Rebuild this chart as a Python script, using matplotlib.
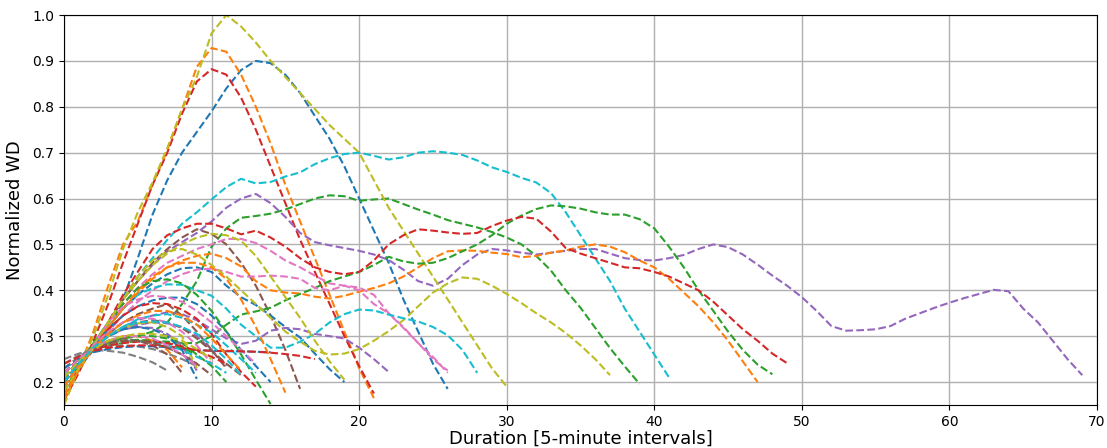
import matplotlib
matplotlib.use("Agg")
import matplotlib.pyplot as plt

# each series: normalized WD sampled at every 5-minute interval, starting at 0
olive_peak = [0.15, 0.23, 0.30, 0.39, 0.49, 0.57, 0.635, 0.71, 0.795, 0.865, 0.96, 1.0, 0.975, 0.94, 0.90,
              0.865, 0.83, 0.795, 0.76, 0.73, 0.70, 0.64, 0.58, 0.53, 0.48, 0.43, 0.38, 0.33, 0.28, 0.23, 0.19]
orange_peak = [0.15, 0.23, 0.31, 0.41, 0.50, 0.55, 0.63, 0.705, 0.795, 0.887, 0.928, 0.92, 0.87, 0.80, 0.72,
               0.63, 0.55, 0.47, 0.39, 0.31, 0.23, 0.165]
red_peak = [0.16, 0.22, 0.29, 0.37, 0.46, 0.545, 0.63, 0.70, 0.785, 0.855, 0.882, 0.87, 0.82, 0.75, 0.67,
            0.59, 0.51, 0.44, 0.37, 0.30, 0.235, 0.175]
blue_peak = [0.18, 0.23, 0.27, 0.31, 0.38, 0.47, 0.565, 0.64, 0.70, 0.745, 0.79, 0.84, 0.88, 0.90, 0.895,
             0.87, 0.83, 0.78, 0.73, 0.67, 0.60, 0.53, 0.46, 0.38, 0.31, 0.24, 0.185]
cyan_long = [0.18, 0.23, 0.28, 0.33, 0.38, 0.43, 0.47, 0.51, 0.545, 0.57, 0.598, 0.625, 0.643, 0.633, 0.636,
             0.648, 0.657, 0.675, 0.688, 0.697, 0.70, 0.693, 0.685, 0.69, 0.70, 0.703, 0.70, 0.695, 0.683,
             0.668, 0.658, 0.645, 0.635, 0.612, 0.57, 0.52, 0.47, 0.42, 0.36, 0.31, 0.26, 0.21]
green_plateau = [0.20, 0.24, 0.27, 0.285, 0.295, 0.30, 0.31, 0.33, 0.37, 0.42, 0.495, 0.535, 0.558, 0.562,
                 0.567, 0.576, 0.588, 0.60, 0.607, 0.605, 0.595, 0.598, 0.60, 0.588, 0.576, 0.565, 0.553,
                 0.545, 0.537, 0.527, 0.515, 0.50, 0.475, 0.443, 0.40, 0.362, 0.318, 0.274, 0.234, 0.196]
green_late = [0.21, 0.245, 0.27, 0.28, 0.285, 0.29, 0.29, 0.288, 0.285, 0.285, 0.30, 0.325, 0.347, 0.354,
              0.362, 0.378, 0.392, 0.405, 0.42, 0.43, 0.44, 0.455, 0.473, 0.463, 0.458, 0.46, 0.47, 0.485,
              0.50, 0.52, 0.545, 0.563, 0.577, 0.585, 0.583, 0.578, 0.57, 0.565, 0.565, 0.555, 0.535, 0.495,
              0.45, 0.40, 0.355, 0.31, 0.27, 0.238, 0.217]
red_long = [0.17, 0.23, 0.28, 0.33, 0.39, 0.44, 0.49, 0.52, 0.535, 0.545, 0.545, 0.535, 0.522, 0.53, 0.515,
            0.495, 0.47, 0.45, 0.44, 0.435, 0.44, 0.465, 0.50, 0.52, 0.533, 0.53, 0.526, 0.523, 0.525, 0.54,
            0.552, 0.56, 0.556, 0.528, 0.492, 0.48, 0.47, 0.46, 0.45, 0.448, 0.44, 0.43, 0.415, 0.40, 0.375,
            0.345, 0.315, 0.29, 0.262, 0.241]
orange_long = [0.16, 0.23, 0.28, 0.32, 0.36, 0.40, 0.43, 0.45, 0.465, 0.475, 0.48, 0.47, 0.452, 0.42, 0.40,
               0.395, 0.393, 0.386, 0.382, 0.388, 0.397, 0.405, 0.415, 0.43, 0.45, 0.47, 0.485, 0.487, 0.486,
               0.482, 0.479, 0.472, 0.475, 0.482, 0.487, 0.495, 0.50, 0.495, 0.483, 0.465, 0.45, 0.425, 0.395,
               0.365, 0.33, 0.29, 0.245, 0.20]
purple_long = [0.19, 0.24, 0.28, 0.33, 0.38, 0.42, 0.455, 0.485, 0.505, 0.525, 0.55, 0.58, 0.60, 0.61, 0.59,
               0.56, 0.525, 0.505, 0.498, 0.492, 0.486, 0.478, 0.466, 0.445, 0.42, 0.41, 0.425, 0.455, 0.478,
               0.49, 0.487, 0.482, 0.478, 0.482, 0.486, 0.49, 0.49, 0.48, 0.47, 0.466, 0.465, 0.47, 0.477,
               0.49, 0.50, 0.494, 0.478, 0.456, 0.432, 0.41, 0.385, 0.355, 0.322, 0.312, 0.313, 0.315, 0.322,
               0.338, 0.35, 0.362, 0.373, 0.383, 0.392, 0.401, 0.398, 0.36, 0.33, 0.29, 0.25, 0.215]
cyan_mid = [0.20, 0.24, 0.28, 0.32, 0.36, 0.39, 0.405, 0.413, 0.412, 0.40, 0.388, 0.36, 0.325, 0.30, 0.275,
            0.275, 0.288, 0.305, 0.33, 0.348, 0.358, 0.356, 0.347, 0.339, 0.332, 0.32, 0.302, 0.27, 0.22]
olive_late = [0.18, 0.23, 0.28, 0.33, 0.38, 0.43, 0.465, 0.485, 0.49, 0.478, 0.455, 0.43, 0.40, 0.37, 0.34,
              0.31, 0.288, 0.268, 0.26, 0.262, 0.272, 0.29, 0.311, 0.335, 0.365, 0.395, 0.415, 0.428, 0.425,
              0.41, 0.392, 0.372, 0.35, 0.33, 0.307, 0.28, 0.25, 0.215]
olive_mid = [0.18, 0.23, 0.28, 0.33, 0.38, 0.42, 0.455, 0.48, 0.50, 0.515, 0.523, 0.52, 0.508, 0.475, 0.43,
             0.385, 0.34, 0.29, 0.245, 0.205]
pink_a = [0.18, 0.23, 0.28, 0.33, 0.37, 0.405, 0.435, 0.46, 0.475, 0.49, 0.50, 0.512, 0.512, 0.503, 0.486,
          0.465, 0.45, 0.432, 0.415, 0.41, 0.406, 0.39, 0.35, 0.318, 0.285, 0.255, 0.22]
pink_b = [0.19, 0.235, 0.275, 0.31, 0.345, 0.375, 0.40, 0.42, 0.435, 0.445, 0.447, 0.44, 0.43, 0.43, 0.432,
          0.43, 0.425, 0.405, 0.40, 0.41, 0.40, 0.37, 0.35, 0.32, 0.285, 0.25, 0.225]
purple_mid = [0.20, 0.24, 0.275, 0.30, 0.32, 0.335, 0.345, 0.352, 0.348, 0.335, 0.315, 0.295, 0.283, 0.29,
              0.312, 0.318, 0.315, 0.305, 0.30, 0.295, 0.275, 0.25, 0.222]
brown_mid = [0.17, 0.225, 0.28, 0.33, 0.38, 0.42, 0.46, 0.49, 0.515, 0.533, 0.523, 0.50, 0.46, 0.41, 0.345,
             0.27, 0.185]
blue_mid = [0.18, 0.23, 0.28, 0.32, 0.36, 0.39, 0.415, 0.435, 0.448, 0.45, 0.44, 0.41, 0.385, 0.368, 0.345,
            0.32, 0.297, 0.262, 0.228, 0.20]
orange_mid = [0.17, 0.225, 0.275, 0.32, 0.36, 0.395, 0.425, 0.45, 0.46, 0.46, 0.45, 0.425, 0.38, 0.32, 0.25,
              0.177]
red_short = [0.20, 0.24, 0.28, 0.315, 0.345, 0.365, 0.372, 0.37, 0.358, 0.338, 0.305, 0.26, 0.222, 0.19]
green_short = [0.18, 0.235, 0.285, 0.33, 0.37, 0.405, 0.42, 0.424, 0.415, 0.39, 0.355, 0.31, 0.26, 0.205, 0.152]
blue_short = [0.19, 0.235, 0.28, 0.315, 0.345, 0.365, 0.378, 0.384, 0.384, 0.37, 0.345, 0.31, 0.27, 0.235, 0.20]
pink_short = [0.20, 0.24, 0.28, 0.33, 0.365, 0.38, 0.388, 0.385, 0.375, 0.355, 0.33, 0.30, 0.27, 0.24]
brown_short = [0.20, 0.24, 0.275, 0.305, 0.33, 0.348, 0.36, 0.37, 0.345, 0.31, 0.27, 0.23]
cyan_short = [0.21, 0.245, 0.275, 0.30, 0.32, 0.337, 0.345, 0.348, 0.34, 0.325, 0.308, 0.28, 0.25, 0.22]
red_flat = [0.24, 0.255, 0.268, 0.275, 0.278, 0.28, 0.28, 0.278, 0.274, 0.27, 0.268, 0.268, 0.267, 0.266,
            0.264, 0.261, 0.257, 0.25]
blue_flat = [0.23, 0.25, 0.265, 0.272, 0.276, 0.278, 0.278, 0.276, 0.273, 0.27, 0.268, 0.267, 0.267, 0.266,
             0.265]
gray_a = [0.25, 0.262, 0.27, 0.268, 0.264, 0.255, 0.243, 0.225]
gray_b = [0.24, 0.258, 0.272, 0.278, 0.28, 0.278, 0.272, 0.262, 0.25, 0.235]
gray_c = [0.23, 0.255, 0.275, 0.285, 0.29, 0.29, 0.285, 0.275, 0.26, 0.24]
brown_a = [0.22, 0.25, 0.275, 0.29, 0.295, 0.29, 0.28, 0.26, 0.22]
brown_b = [0.20, 0.24, 0.275, 0.30, 0.318, 0.33, 0.335, 0.33, 0.318, 0.295, 0.268, 0.24, 0.215]
brown_c = [0.22, 0.25, 0.272, 0.285, 0.29, 0.29, 0.285, 0.275, 0.26, 0.24, 0.215]
orange_a = [0.20, 0.24, 0.27, 0.29, 0.30, 0.30, 0.29, 0.27, 0.232]
orange_b = [0.19, 0.235, 0.275, 0.305, 0.33, 0.345, 0.355, 0.355, 0.345, 0.325, 0.295, 0.26, 0.225]
purple_a = [0.21, 0.245, 0.275, 0.30, 0.315, 0.32, 0.318, 0.305, 0.28, 0.225]
purple_b = [0.20, 0.24, 0.275, 0.30, 0.315, 0.325, 0.33, 0.328, 0.32, 0.30, 0.27, 0.235]
blue_a = [0.20, 0.24, 0.275, 0.30, 0.315, 0.32, 0.315, 0.30, 0.27, 0.207]
olive_a = [0.19, 0.235, 0.275, 0.30, 0.318, 0.328, 0.33, 0.32, 0.30, 0.23]
olive_b = [0.21, 0.245, 0.272, 0.29, 0.30, 0.305, 0.305, 0.30, 0.29, 0.272, 0.25]
green_a = [0.21, 0.245, 0.275, 0.29, 0.298, 0.30, 0.30, 0.295, 0.285, 0.26, 0.235, 0.20]
green_b = [0.22, 0.25, 0.272, 0.285, 0.29, 0.292, 0.29, 0.285, 0.275, 0.26]
pink_c = [0.20, 0.24, 0.28, 0.31, 0.33, 0.34, 0.338, 0.33, 0.31, 0.28, 0.24]
pink_d = [0.22, 0.25, 0.275, 0.29, 0.30, 0.30, 0.295, 0.28, 0.26, 0.235]
cyan_a = [0.22, 0.25, 0.272, 0.285, 0.29, 0.29, 0.286, 0.28, 0.27, 0.255, 0.24, 0.22]
cyan_b = [0.20, 0.24, 0.275, 0.30, 0.32, 0.33, 0.332, 0.33, 0.32, 0.305, 0.28, 0.25, 0.215]
red_a = [0.22, 0.25, 0.27, 0.28, 0.285, 0.288, 0.288, 0.285, 0.278, 0.268, 0.255, 0.24]

series = [
    (blue_peak, "C0"), (orange_peak, "C1"), (green_plateau, "C2"), (red_peak, "C3"), (purple_long, "C4"),
    (brown_mid, "C5"), (pink_a, "C6"), (gray_a, "C7"), (olive_peak, "C8"), (cyan_long, "C9"),
    (blue_mid, "C0"), (orange_long, "C1"), (green_late, "C2"), (red_long, "C3"), (purple_mid, "C4"),
    (brown_short, "C5"), (pink_b, "C6"), (gray_b, "C7"), (olive_late, "C8"), (cyan_mid, "C9"),
    (blue_short, "C0"), (orange_mid, "C1"), (green_short, "C2"), (red_short, "C3"), (purple_a, "C4"),
    (brown_a, "C5"), (pink_short, "C6"), (gray_c, "C7"), (olive_mid, "C8"), (cyan_short, "C9"),
    (blue_flat, "C0"), (orange_a, "C1"), (green_a, "C2"), (red_flat, "C3"), (purple_b, "C4"),
    (brown_b, "C5"), (pink_c, "C6"), (olive_a, "C8"), (cyan_a, "C9"),
    (blue_a, "C0"), (orange_b, "C1"), (green_b, "C2"), (red_a, "C3"), (brown_c, "C5"),
    (pink_d, "C6"), (olive_b, "C8"), (cyan_b, "C9"),
]

fig = plt.figure(figsize=(11.07, 4.48), dpi=100)
ax = fig.add_axes([0.0578, 0.096, 0.9332, 0.8705])
for vals, col in series:
    ax.plot(range(len(vals)), vals, "--", color=col, lw=1.5)

ax.set_xlim(0, 70)
ax.set_ylim(0.15, 1.0)
ax.set_xticks(range(0, 71, 10))
ax.set_yticks([0.2, 0.3, 0.4, 0.5, 0.6, 0.7, 0.8, 0.9, 1.0])
ax.grid(True, color="#b0b0b0", lw=1.0)
ax.set_axisbelow(True)
ax.tick_params(labelsize=10)
ax.set_xlabel("Duration [5-minute intervals]", fontsize=13, labelpad=1)
ax.set_ylabel("Normalized WD", fontsize=13, labelpad=6)

fig.savefig("out.png", dpi=100)
